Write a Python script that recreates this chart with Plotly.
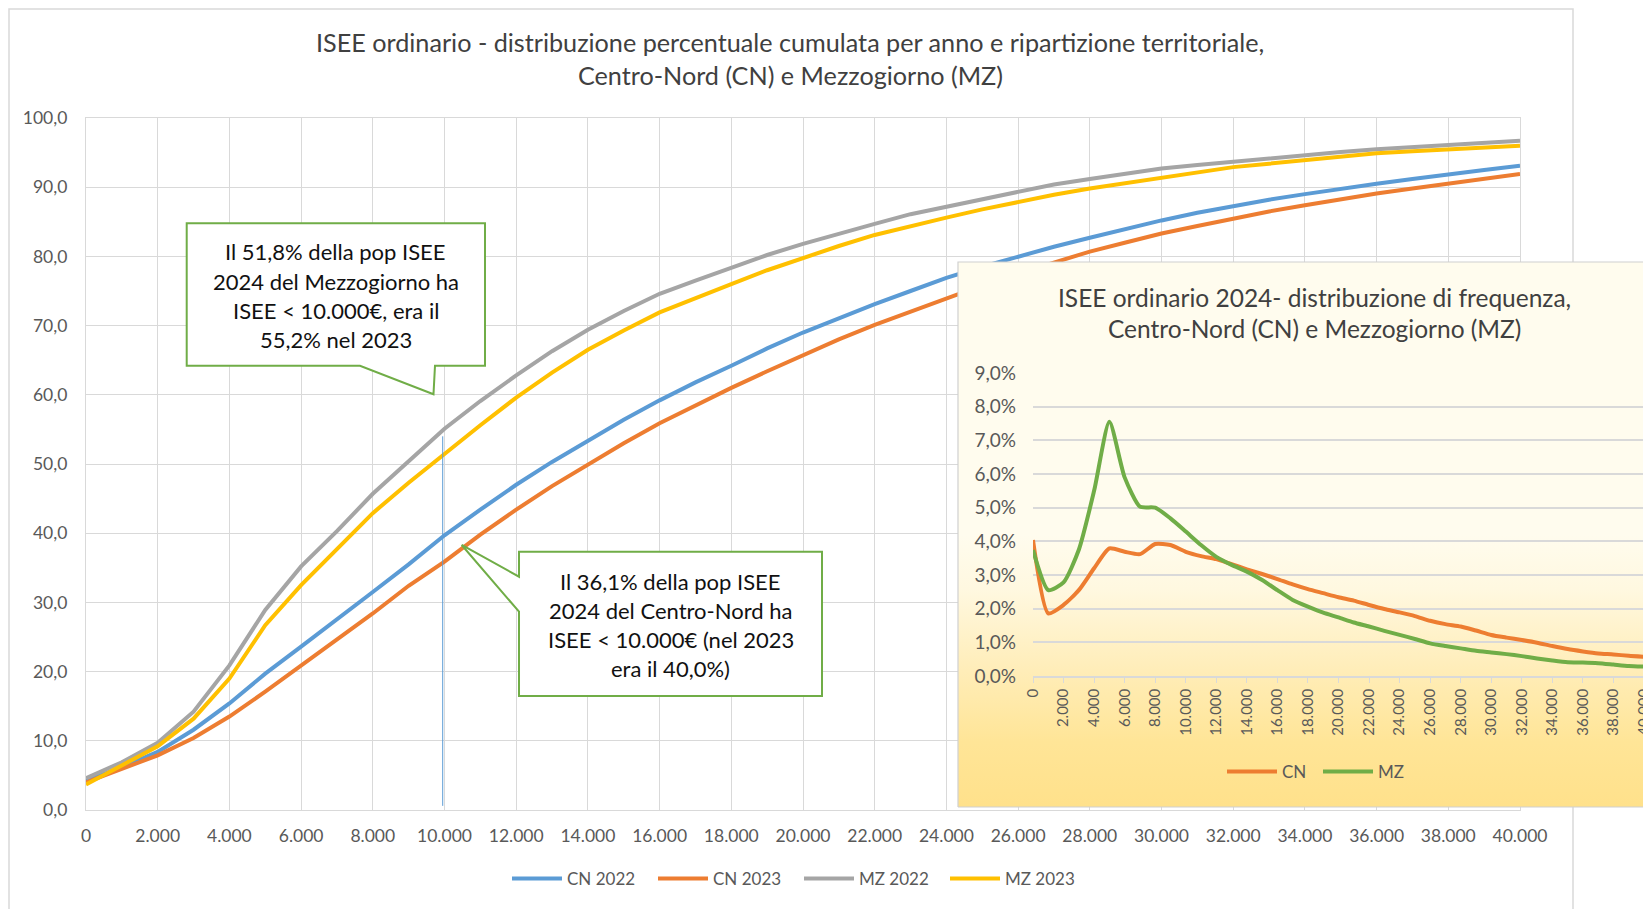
import plotly.graph_objects as go

# ---------------- DATA ----------------
isee = [0, 1000, 2000, 3000, 4000, 5000, 6000, 7000, 8000, 9000, 10000,
        11000, 12000, 13000, 14000, 15000, 16000, 17000, 18000, 19000, 20000,
        21000, 22000, 23000, 24000, 25000, 26000, 27000, 28000, 29000, 30000,
        31000, 32000, 33000, 34000, 35000, 36000, 37000, 38000, 39000, 40000]

cn_2022 = [4.2, 6.2, 8.4, 11.6, 15.4, 19.7, 23.6, 27.5, 31.5, 35.5, 39.7,
           43.4, 47.0, 50.3, 53.4, 56.4, 59.2, 61.8, 64.2, 66.7, 69.0,
           71.1, 73.1, 75.0, 76.9, 78.5, 80.0, 81.4, 82.7, 84.0, 85.2,
           86.3, 87.3, 88.2, 89.0, 89.8, 90.5, 91.2, 91.9, 92.5, 93.1]
cn_2023 = [4.0, 5.9, 7.9, 10.4, 13.5, 17.1, 20.9, 24.6, 28.4, 32.4, 35.9,
           39.8, 43.4, 46.8, 49.9, 53.0, 55.9, 58.5, 61.0, 63.4, 65.7,
           68.0, 70.1, 72.0, 73.9, 75.8, 77.5, 79.1, 80.7, 82.0, 83.3,
           84.4, 85.5, 86.5, 87.4, 88.3, 89.1, 89.8, 90.5, 91.2, 91.9]
mz_2022 = [4.6, 6.9, 9.7, 14.2, 20.9, 28.9, 35.2, 40.3, 45.7, 50.4, 55.1,
           59.1, 62.8, 66.3, 69.4, 72.1, 74.6, 76.5, 78.4, 80.2, 81.8,
           83.3, 84.7, 86.1, 87.2, 88.3, 89.4, 90.4, 91.2, 92.0, 92.7,
           93.2, 93.7, 94.2, 94.7, 95.1, 95.5, 95.8, 96.1, 96.4, 96.7]
mz_2023 = [3.7, 6.5, 9.2, 13.2, 19.0, 26.7, 32.5, 37.7, 42.9, 47.3, 51.5,
           55.6, 59.6, 63.2, 66.5, 69.3, 71.9, 74.0, 76.0, 78.0, 79.8,
           81.5, 83.1, 84.4, 85.6, 86.8, 87.9, 88.9, 89.8, 90.6, 91.4,
           92.2, 92.9, 93.4, 93.9, 94.4, 94.9, 95.2, 95.5, 95.8, 96.0]

# 2024 frequency distribution (%)
freq_cn = [4.04, 1.86, 2.11, 2.55, 3.20, 3.79, 3.69, 3.62, 3.92, 3.89, 3.69,
           3.56, 3.47, 3.32, 3.17, 3.03, 2.88, 2.72, 2.58, 2.46, 2.34,
           2.24, 2.11, 1.99, 1.89, 1.78, 1.64, 1.54, 1.47, 1.35, 1.22,
           1.14, 1.07, 0.99, 0.89, 0.80, 0.73, 0.67, 0.64, 0.60, 0.57]
freq_mz = [3.74, 2.55, 2.78, 3.75, 5.50, 7.55, 5.90, 5.03, 5.00, 4.68, 4.29,
           3.89, 3.54, 3.30, 3.10, 2.85, 2.55, 2.26, 2.06, 1.88, 1.74,
           1.59, 1.47, 1.34, 1.22, 1.10, 0.97, 0.89, 0.82, 0.75, 0.70,
           0.65, 0.59, 0.52, 0.46, 0.41, 0.40, 0.38, 0.34, 0.30, 0.28]

threshold = 9950
threshold_y = [0.6, 54.0]

main_series = [("CN 2022", cn_2022, "#5B9BD5"),
               ("CN 2023", cn_2023, "#ED7D31"),
               ("MZ 2022", mz_2022, "#A5A5A5"),
               ("MZ 2023", mz_2023, "#FFC000")]
inset_series = [("CN", freq_cn, "#ED7D31"),
                ("MZ", freq_mz, "#70AD47")]

title_lines = ["ISEE ordinario - distribuzione percentuale cumulata per anno e ripartizione territoriale,",
               "Centro-Nord (CN) e Mezzogiorno (MZ)"]
inset_title_lines = ["ISEE ordinario 2024- distribuzione di frequenza,",
                     "Centro-Nord (CN) e Mezzogiorno (MZ)"]
callout_mz = ["Il 51,8% della pop ISEE", "2024 del Mezzogiorno ha",
              "ISEE < 10.000€, era il", "55,2% nel 2023"]
callout_cn = ["Il 36,1% della pop ISEE", "2024 del Centro-Nord ha",
              "ISEE < 10.000€ (nel 2023", "era il 40,0%)"]

# ---------------- LAYOUT HELPERS (screen pixel coordinates) ----------------
SCREEN_W, SCREEN_H = 1651, 909
OFF = 8                                # page body margin
W, H = SCREEN_W - OFF, SCREEN_H - OFF  # figure size
PL, PR, PT, PB = 86, SCREEN_W, 118, 810  # paper area on screen
ML, MR, MT, MB = PL - OFF, 0, PT - OFF, SCREEN_H - PB
PW, PH = PR - PL, PB - PT


def px(x):
    return (x - PL) / PW


def py(y):
    return (PB - y) / PH


FONT = "Lato"
GRID = "#D9D9D9"
TXT = "#595959"

fig = go.Figure()

# main chart traces
for name, vals, col in main_series:
    fig.add_trace(go.Scatter(x=isee, y=vals, name=name, mode="lines",
                             line=dict(color=col, width=4),
                             xaxis="x", yaxis="y", legend="legend"))
fig.add_trace(go.Scatter(x=[threshold, threshold], y=threshold_y, mode="lines",
                         line=dict(color="#5B9BD5", width=1), showlegend=False,
                         xaxis="x", yaxis="y"))

# inset background panel (gradient) in its own subplot, drawn above the main one
bx0, bx1, by0, by1 = 955, SCREEN_W, 258, PB
def bgx(x):
    return (x - bx0) / (bx1 - bx0)
def bgy(y):
    return (by1 - y) / (by1 - by0)
panel_x = [bgx(958), bgx(1670), bgx(1670), bgx(958), bgx(958)]
panel_y = [bgy(807), bgy(807), bgy(262), bgy(262), bgy(807)]
fig.add_trace(go.Scatter(x=panel_x, y=panel_y, mode="lines", fill="toself",
                         line=dict(color="#D0D0D0", width=1.2),
                         fillgradient=dict(type="vertical",
                                           colorscale=[[0, "#FFE18B"], [0.12, "#FFE597"],
                                                       [0.25, "#FFEDB8"], [0.40, "#FFF8E0"],
                                                       [0.50, "#FFFCEE"], [1, "#FFFCEE"]]),
                         showlegend=False, xaxis="x2", yaxis="y2"))

# inset traces
for name, vals, col in inset_series:
    fig.add_trace(go.Scatter(x=isee, y=vals, name=name, mode="lines",
                             line=dict(color=col, width=4, shape="spline", smoothing=0.6),
                             xaxis="x3", yaxis="y3", legend="legend2"))

axis_font = dict(family=FONT, size=17.5, color=TXT)

fig.update_layout(
    width=W, height=H,
    margin=dict(l=ML, r=MR, t=MT, b=MB, pad=0, autoexpand=False),
    paper_bgcolor="white", plot_bgcolor="rgba(0,0,0,0)",
    separators=",.",
    hovermode=False,
    font=dict(family=FONT, color=TXT),
    xaxis=dict(domain=[0, px(1520)], range=[0, 40000], dtick=2000, tick0=0,
               tickformat=",.0f", showgrid=True, gridcolor=GRID, gridwidth=1.3,
               showline=True, linecolor=GRID, linewidth=1.3, mirror=True,
               zeroline=False, ticks="", tickfont=axis_font, ticklabelstandoff=10,
               automargin=False, anchor="y"),
    yaxis=dict(domain=[0, 1], range=[0, 100], dtick=10, tickformat=".1f",
               showgrid=True, gridcolor=GRID, gridwidth=1.3, showline=True,
               linecolor=GRID, linewidth=1.3, mirror=True, zeroline=False,
               ticks="", tickfont=axis_font, ticklabelstandoff=14,
               automargin=False, anchor="x"),
    xaxis2=dict(domain=[px(bx0), 1], range=[0, 1], visible=False, anchor="y2"),
    yaxis2=dict(domain=[0, py(by0)], range=[0, 1], visible=False, anchor="x2"),
    xaxis3=dict(domain=[px(1033), px(1644)], range=[0, 40000], dtick=2000, tick0=0,
                tickformat=",.0f", tickangle=-90, showgrid=False, zeroline=False,
                showline=True, linecolor=GRID, linewidth=1.5, ticks="outside",
                ticklen=5, tickcolor=GRID, tickwidth=1.3, automargin=False,
                ticklabeloverflow="allow",
                tickfont=dict(family=FONT, size=15, color=TXT), anchor="y3"),
    yaxis3=dict(domain=[py(676), py(373)], range=[0, 9], dtick=1, tickformat=".1f",
                ticksuffix="%", showgrid=True, gridcolor=GRID, gridwidth=1.5,
                zeroline=False, showline=False, ticks="", automargin=False,
                tickfont=dict(family=FONT, size=19, color=TXT), ticklabelstandoff=16,
                anchor="x3"),
    legend=dict(orientation="h", x=px(799), xanchor="center", y=py(879),
                yanchor="middle", font=dict(family=FONT, size=17, color=TXT),
                bgcolor="rgba(0,0,0,0)", itemwidth=50, entrywidth=81),
    legend2=dict(orientation="h", x=px(1318), xanchor="center", y=py(772),
                 yanchor="middle", font=dict(family=FONT, size=17, color=TXT),
                 bgcolor="rgba(0,0,0,0)", itemwidth=50, entrywidth=31),
)

# outer chart frame
fig.add_shape(type="rect", xref="paper", yref="paper", x0=px(9), x1=px(1573),
              y0=py(9), y1=py(940), line=dict(color="#D9D9D9", width=1.5),
              fillcolor="rgba(0,0,0,0)", layer="below")

# callouts
def poly(points):
    return "M " + " L ".join(f"{px(a):.5f},{py(b):.5f}" for a, b in points) + " Z"

mz_box = [(186.7, 223.3), (485, 223.3), (485, 365.7), (435, 365.7),
          (433.5, 394.3), (360, 365.7), (186.7, 365.7)]
cn_box = [(519, 551.7), (822, 551.7), (822, 696), (519, 696), (519, 611.7),
          (461.7, 545), (519, 576.7)]
for pts in (mz_box, cn_box):
    fig.add_shape(type="path", xref="paper", yref="paper", path=poly(pts),
                  line=dict(color="#70AD47", width=2), fillcolor="white", layer="above")


def text_lines(lines, cx, ys, size, color):
    for t, yy in zip(lines, ys):
        fig.add_annotation(text=t, x=px(cx), y=py(yy), xref="paper", yref="paper",
                           xanchor="center", yanchor="middle", showarrow=False,
                           font=dict(family=FONT, size=size, color=color))


text_lines(title_lines, 790, [42, 75], 25.2, "#404040")
text_lines(inset_title_lines, 1314, [297, 328.5], 24.5, "#404040")
text_lines(callout_mz, 335.8, [251.7, 281, 310, 339], 22, "#111111")
text_lines(callout_cn, 670.5, [581.7, 610.7, 639.3, 668.3], 22, "#111111")

fig.write_html("out.html", config=dict(displayModeBar=False))
